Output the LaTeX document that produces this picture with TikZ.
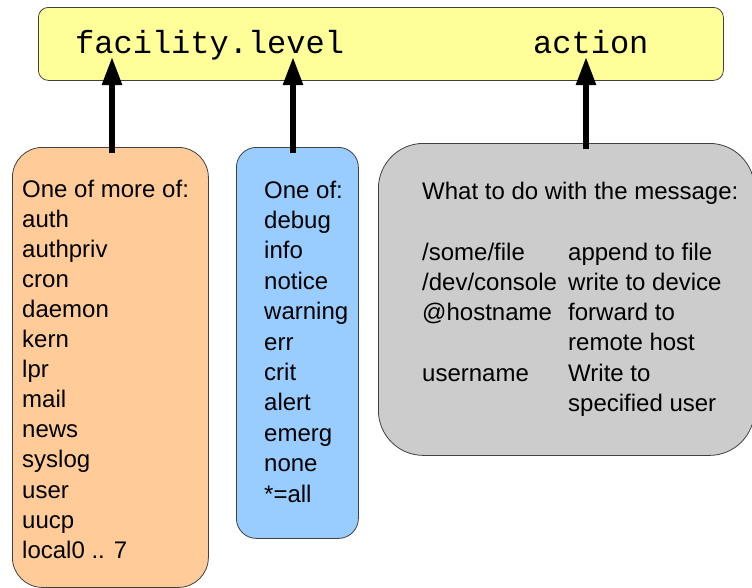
\documentclass[tikz,border=0pt]{standalone}
\usepackage{fontspec}
\setmainfont{Liberation Sans}
\newfontfamily\selmono{Liberation Mono}
\usetikzlibrary{positioning, arrows.meta}

\definecolor{selyellow}{HTML}{FFFF99}
\definecolor{facorange}{HTML}{FFCC99}
\definecolor{levblue}{HTML}{99CCFF}
\definecolor{actgray}{HTML}{CCCCCC}

\begin{document}
\begin{tikzpicture}[x=1pt, y=-1pt,
    panel/.style={draw=black!75, line width=0.8pt, inner sep=0pt, anchor=north west},
    seltext/.style={font=\selmono\fontsize{32}{36}\selectfont, inner sep=0pt, anchor=base west},
    item/.style={font=\fontsize{24}{30}\selectfont, inner sep=0pt, anchor=base west},
    pipe/.style={line width=5.5pt, -{Triangle[length=28pt, width=19pt]}, shorten <=-6pt}]
    \useasboundingbox (0,0) rectangle (752,587);
    % selector line
    \node[panel, fill=selyellow, rounded corners=10pt, minimum width=685pt, minimum height=73pt] (sel) at (38,7) {};
    \node[seltext] (fac) at (75,53) {facility.level};
    \node[seltext] (act) at (533,53) {action};
    % the three boxes
    \node[panel, fill=facorange, rounded corners=30pt, minimum width=196pt, minimum height=440pt] (fbox) at (12,147) {};
    \node[panel, fill=levblue, rounded corners=20pt, minimum width=122pt, minimum height=391pt] (lbox) at (236,147) {};
    \node[panel, fill=actgray, rounded corners=45pt, minimum width=376pt, minimum height=312pt] (abox) at (378,143) {};
    \foreach \t [count=\i] in {One of more of:, auth, authpriv, cron, daemon, kern, lpr, mail, news, syslog, user, uucp, local0 .. 7} {
        \node[item] (f\i) at (22, 197+30.1*\i-30.1) {\t};
    }
    \foreach \t [count=\i] in {One of:, debug, info, notice, warning, err, crit, alert, emerg, none, *=all} {
        \node[item] (l\i) at (264, 198+30.4*\i-30.4) {\t};
    }
    \node[item] (a0) at (422,199) {What to do with the message:};
    \foreach \t/\u [count=\i] in {{/some/file}/{append to file}, {/dev/console}/{write to device}, {@hostname}/{forward to}, {}/{remote host}, {username}/{Write to}, {}/{specified user}} {
        \node[item] (ak\i) at (422, 260+30.3*\i-30.3) {\t};
        \node[item] (av\i) at (568, 260+30.3*\i-30.3) {\u};
    }
    % arrows up to the selector
    \coordinate (ftip) at (112,57);
    \coordinate (ltip) at (293,57);
    \coordinate (atip) at (586,57);
    \draw[pipe] (fbox.north -| ftip) -- (ftip);
    \draw[pipe] (lbox.north -| ltip) -- (ltip);
    \draw[pipe] (abox.north -| atip) -- (atip);
\end{tikzpicture}
\end{document}
